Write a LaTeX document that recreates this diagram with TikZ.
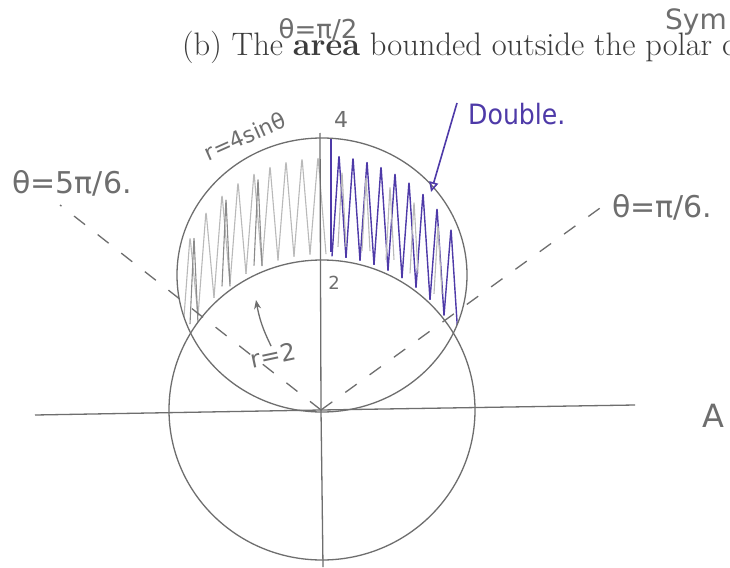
\documentclass[tikz,border=0pt]{standalone}
\usepackage{fontspec}
\newfontfamily\hand{DejaVu Sans}
\newfontfamily\handc{DejaVu Sans Condensed}
\usetikzlibrary{arrows.meta}
\definecolor{pen}{RGB}{110,110,110}
\definecolor{print}{RGB}{60,60,60}
\definecolor{ink}{RGB}{78,58,168}
\definecolor{lightpen}{RGB}{185,185,185}
\begin{document}
\begin{tikzpicture}[x=1pt,y=-1pt,
  curve/.style={pen, line width=1.3pt},
  dashln/.style={pen, line width=1.3pt, dash pattern=on 14pt off 16pt},
  hatchg/.style={lightpen, line width=1.1pt, line join=round},
  hatchd/.style={pen!80, line width=1.1pt, line join=round},
  hatchb/.style={ink, line width=1.4pt, line join=round},
  handtxt/.style={text=pen, inner sep=0pt, font=\hand\fontsize{22}{24}\selectfont},
  inktxt/.style={text=ink, inner sep=0pt, font=\handc\fontsize{28}{30}\selectfont}]
\useasboundingbox (0,0) rectangle (730,567);
\clip (0,0) rectangle (730,567);
\fill[white] (0,0) rectangle (730,567);

% hatching inside the crescent
\begin{scope}
  \clip (322,275) ellipse [x radius=145, y radius=137];
  \foreach \x in {182,198,...,314} {
    \pgfmathsetmacro{\yt}{275-137*sqrt(max(0,1-((\x+8-322)/145)^2))+18}
    \pgfmathsetmacro{\yb}{410-150*sqrt(max(0,1-((\x-322)/153)^2))-6}
    \pgfmathsetmacro{\ybb}{410-150*sqrt(max(0,1-((\x+16-322)/153)^2))-6}
    \draw[hatchg, rounded corners=4pt] (\x,\yb) -- (\x+8,\yt) -- (\x+16,\ybb);
  }
  \foreach \x in {190,222,...,262} {
    \pgfmathsetmacro{\yt}{275-137*sqrt(max(0,1-((\x+4-322)/145)^2))+26}
    \pgfmathsetmacro{\yb}{410-150*sqrt(max(0,1-((\x-322)/153)^2))-10}
    \draw[hatchd, rounded corners=3pt] (\x,\yb) -- (\x+4,\yt) -- (\x+8,\yb);
  }
  \foreach \x in {332,346,...,452} {
    \pgfmathsetmacro{\yt}{275-137*sqrt(max(0,1-((\x+7-322)/145)^2))+16}
    \pgfmathsetmacro{\yb}{410-150*sqrt(max(0,1-((\x-322)/153)^2))-4}
    \pgfmathsetmacro{\ybb}{410-150*sqrt(max(0,1-((\x+14-322)/153)^2))-4}
    \draw[hatchb, rounded corners=3pt] (\x,\yb) -- (\x+7,\yt) -- (\x+14,\ybb);
  }
  \foreach \x in {338,362,...,456} {
    \pgfmathsetmacro{\yt}{275-137*sqrt(max(0,1-((\x+4-322)/145)^2))+32}
    \pgfmathsetmacro{\yb}{410-150*sqrt(max(0,1-((\x-322)/153)^2))-14}
    \draw[hatchg, rounded corners=3pt] (\x,\yb) -- (\x+4,\yt) -- (\x+8,\yb);
  }
  \draw[ink, line width=2.2pt] (331,128) -- (331,252);
\end{scope}
\fill[white] (322,410) ellipse [x radius=153, y radius=150];

% curves
\draw[curve] (322,275) ellipse [x radius=145, y radius=137];
\draw[curve] (322,410) ellipse [x radius=153, y radius=150];

% axes
\coordinate (O) at (321,410);
\coordinate (xl) at (35,415);
\coordinate (xr) at (635,405);
\coordinate (yt) at (320,133);
\coordinate (yb) at (323,567);
\draw[curve] (xl) -- (O) -- (xr);
\draw[curve] (yt) -- (O) -- (yb);

% rays
\coordinate (R1) at (607,203);
\coordinate (R2) at (60,205);
\draw[dashln] (O) -- (R1);
\draw[dashln] (O) -- (R2);

% printed text
\node[anchor=base west, inner sep=0pt, text=print, font=\fontsize{32.5}{36}\selectfont] (title) at (182,56)
  {(b) The \textbf{area} bounded outside the polar c};

% handwritten labels
\node[handtxt, font=\hand\fontsize{26}{28}\selectfont] (th2) at (318,30) {θ=π/2};
\node[handtxt, anchor=west, font=\hand\fontsize{28}{30}\selectfont] (sym) at (665,22) {Sym};
\node[handtxt, rotate=24, font=\hand\fontsize{22}{24}\selectfont] (r4) at (245,136) {r=4sinθ};
\node[handtxt] (four) at (341,119) {4};
\node[handtxt, font=\hand\fontsize{18}{20}\selectfont] (two) at (334,283) {2};
\node[handtxt, font=\hand\fontsize{30}{32}\selectfont] (th56) at (72,183) {θ=5π/6.};
\node[handtxt, font=\hand\fontsize{30}{32}\selectfont, anchor=west] (th16) at (612,207) {θ=π/6.};
\node[handtxt, rotate=12, font=\hand\fontsize{24}{26}\selectfont] (r2) at (273,355) {r=2};
\node[handtxt, anchor=west, font=\hand\fontsize{32}{34}\selectfont] (A) at (702,416) {A};
\node[inktxt, anchor=west] (dbl) at (468,114) {Double.};

% arrows
\coordinate (c2) at (256,300);
\draw[curve, -{Stealth[length=9pt,width=7pt]}] (r2.north) to[bend left=8] (c2);
\coordinate (ab) at (457,103);
\coordinate (ah) at (431,192);
\draw[ink, line width=1.6pt, -{Triangle[open, length=10pt, width=9pt]}] (ab) -- (ah);
\end{tikzpicture}
\end{document}
